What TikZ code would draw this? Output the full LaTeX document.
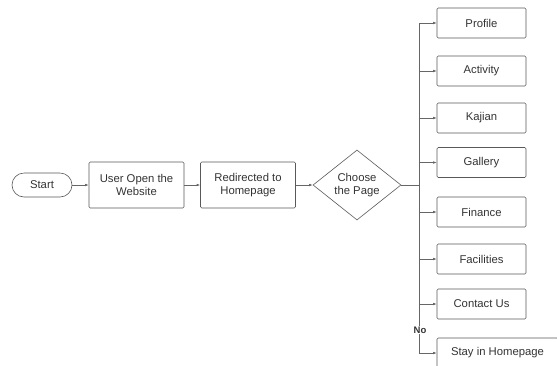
\documentclass[tikz,border=0pt]{standalone}
\usepackage{fontspec}
\setmainfont{Liberation Sans}
\usetikzlibrary{shapes.geometric,arrows.meta}
\begin{document}
\begin{tikzpicture}[x=1pt,y=-1pt,
  every node/.style={font=\fontsize{11.3}{13.5}\selectfont, text=black!80},
  box/.style={draw=black!65, line width=0.6pt, rounded corners=1.2pt, minimum width=95pt, minimum height=46pt, align=center, inner sep=0pt},
  sbox/.style={draw=black!65, line width=0.6pt, rounded corners=1.2pt, minimum width=89pt, minimum height=30pt, inner sep=0pt},
  term/.style={draw=black!65, line width=0.6pt, rounded corners=12pt, minimum width=60pt, minimum height=24pt, inner sep=0pt},
  dia/.style={draw=black!65, line width=0.6pt, diamond, aspect=1.257, minimum width=88pt, minimum height=70pt, inner sep=0pt, align=center},
  conn/.style={draw=black!60, line width=0.6pt, -{Latex[length=3.5pt,width=2.6pt]}},
  line/.style={draw=black!60, line width=0.6pt}]
\useasboundingbox (0,0) rectangle (557,365);
\begin{scope}
\clip (0,0) rectangle (557,365);
\node[term] (start) at (42,185) {Start};
\node[box] (user) at (136.5,185) {User Open the\\Website};
\node[box] (redir) at (248,185) {Redirected to\\Homepage};
\node[dia] (choose) at (357,185) {Choose\\the Page};
\node[sbox] (profile) at (481.5,23) {Profile};
\node[sbox] (activity) at (481.5,71) {Activity};
\node[sbox] (kajian) at (481.5,118) {Kajian};
\node[sbox] (gallery) at (481.5,162.5) {Gallery};
\node[sbox] (finance) at (481.5,212) {Finance};
\node[sbox] (facilities) at (481.5,259) {Facilities};
\node[sbox] (contact) at (481.5,304) {Contact Us};
\node[sbox, minimum width=121pt] (stay) at (497.5,353) {Stay in Homepage};
\coordinate (bj) at (419,185);
\coordinate (btop) at (419,23);
\coordinate (bbot) at (419,353);
\draw[conn] (start) -- (user);
\draw[conn] (user) -- (redir);
\draw[conn] (redir) -- (choose);
\draw[line] (choose.east) -- (bj);
\draw[line] (btop) -- (bbot);
\foreach \n in {profile,activity,kajian,gallery,finance,facilities,contact,stay}{
  \draw[conn] (bj |- \n.west) -- (\n.west);
}
\node[font=\bfseries\fontsize{9.5}{11}\selectfont, fill=white, inner sep=0.5pt] (no) at (420,330) {No};
\end{scope}
\end{tikzpicture}
\end{document}
